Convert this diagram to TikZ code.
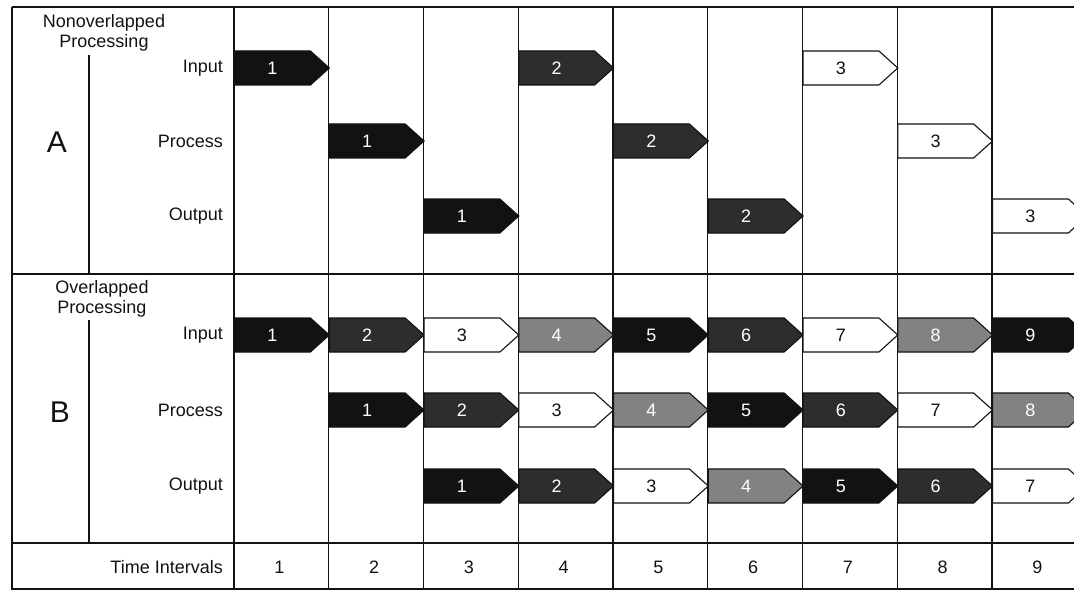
\documentclass[tikz,border=0pt]{standalone}
\usepackage{fontspec}
\setmainfont{Liberation Sans}
\usetikzlibrary{shapes.symbols}
\definecolor{cInk}{RGB}{18,18,18}
\definecolor{cDark}{RGB}{45,45,45}
\definecolor{cGrey}{RGB}{130,130,130}

\begin{document}
\begin{tikzpicture}[
  x=1pt, y=-1pt, font=\fontsize{18}{20}\selectfont, color=cInk,
  rule/.style ={draw=cInk, line width=1.4pt},
  lbl/.style  ={anchor=east, inner sep=0pt},
  job/.style  ={signal, signal to=east, signal from=nowhere, signal pointer angle=84,
                minimum width=94.75, minimum height=34, inner sep=0pt, anchor=west,
                draw=cInk, line width=1.1pt},
  job0/.style ={job, fill=cInk, text=white},
  job1/.style ={job, fill=cDark, text=white},
  job2/.style ={job, fill=white, text=cInk},
  job3/.style ={job, fill=cGrey, text=white},
]

\def\xA{234}\def\dX{94.75}

\useasboundingbox (0,0) rectangle (1074,591);
\clip (0,0) rectangle (1074,591);

% ----- frame and rules --------------------------------------------------
\draw[rule] (12,7) -- (1090,7);
\draw[rule] (12,7) -- (12,589) -- (1090,589);
\draw[rule] (12,274) -- (1090,274);
\draw[rule] (12,543) -- (1090,543);
\foreach \c in {0,...,9}{
  \draw[rule] (\xA+\dX*\c,7) -- (\xA+\dX*\c,589);}
\draw[rule] (89,55)  -- (89,274);
\draw[rule] (89,320) -- (89,543);

% ----- row headings -----------------------------------------------------
\node[align=center,inner sep=0pt] (headA) at (104,33) {Nonoverlapped\\Processing};
\node[align=center,inner sep=0pt] (headB) at (102,299) {Overlapped\\Processing};
\node[font=\fontsize{30}{30}\selectfont] (partA) at (57,142) {A};
\node[font=\fontsize{30}{30}\selectfont] (partB) at (60,412) {B};

\node[lbl] (aIn)  at (223,68)  {Input};
\node[lbl] (aPr)  at (223,141) {Process};
\node[lbl] (aOut) at (223,216) {Output};
\node[lbl] (bIn)  at (223,335) {Input};
\node[lbl] (bPr)  at (223,410) {Process};
\node[lbl] (bOut) at (223,486) {Output};
\node[lbl] (time) at (223,567) {Time Intervals};

\foreach \c in {1,...,9}{
  \node (t\c) at (\xA+\dX*\c-\dX/2-2,567) {\c};}

% ----- A: one job at a time ---------------------------------------------
\foreach \n in {1,2,3}{
  \pgfmathtruncatemacro\s{mod(\n-1,4)}
  \node[job\s] (aIn\n)  at (\xA+\dX*3*\n-\dX*3,68)  {\n};
  \node[job\s] (aPr\n)  at (\xA+\dX*3*\n-\dX*2,141) {\n};
  \node[job\s] (aOut\n) at (\xA+\dX*3*\n-\dX,216)   {\n};}

% ----- B: stages overlap --------------------------------------------------
\foreach \n in {1,...,9}{
  \pgfmathtruncatemacro\s{mod(\n-1,4)}
  \node[job\s] (bIn\n) at (\xA+\dX*\n-\dX,335) {\n};}
\foreach \n in {1,...,8}{
  \pgfmathtruncatemacro\s{mod(\n-1,4)}
  \node[job\s] (bPr\n) at (\xA+\dX*\n,410) {\n};}
\foreach \n in {1,...,7}{
  \pgfmathtruncatemacro\s{mod(\n-1,4)}
  \node[job\s] (bOut\n) at (\xA+\dX*\n+\dX,486) {\n};}

\end{tikzpicture}
\end{document}
